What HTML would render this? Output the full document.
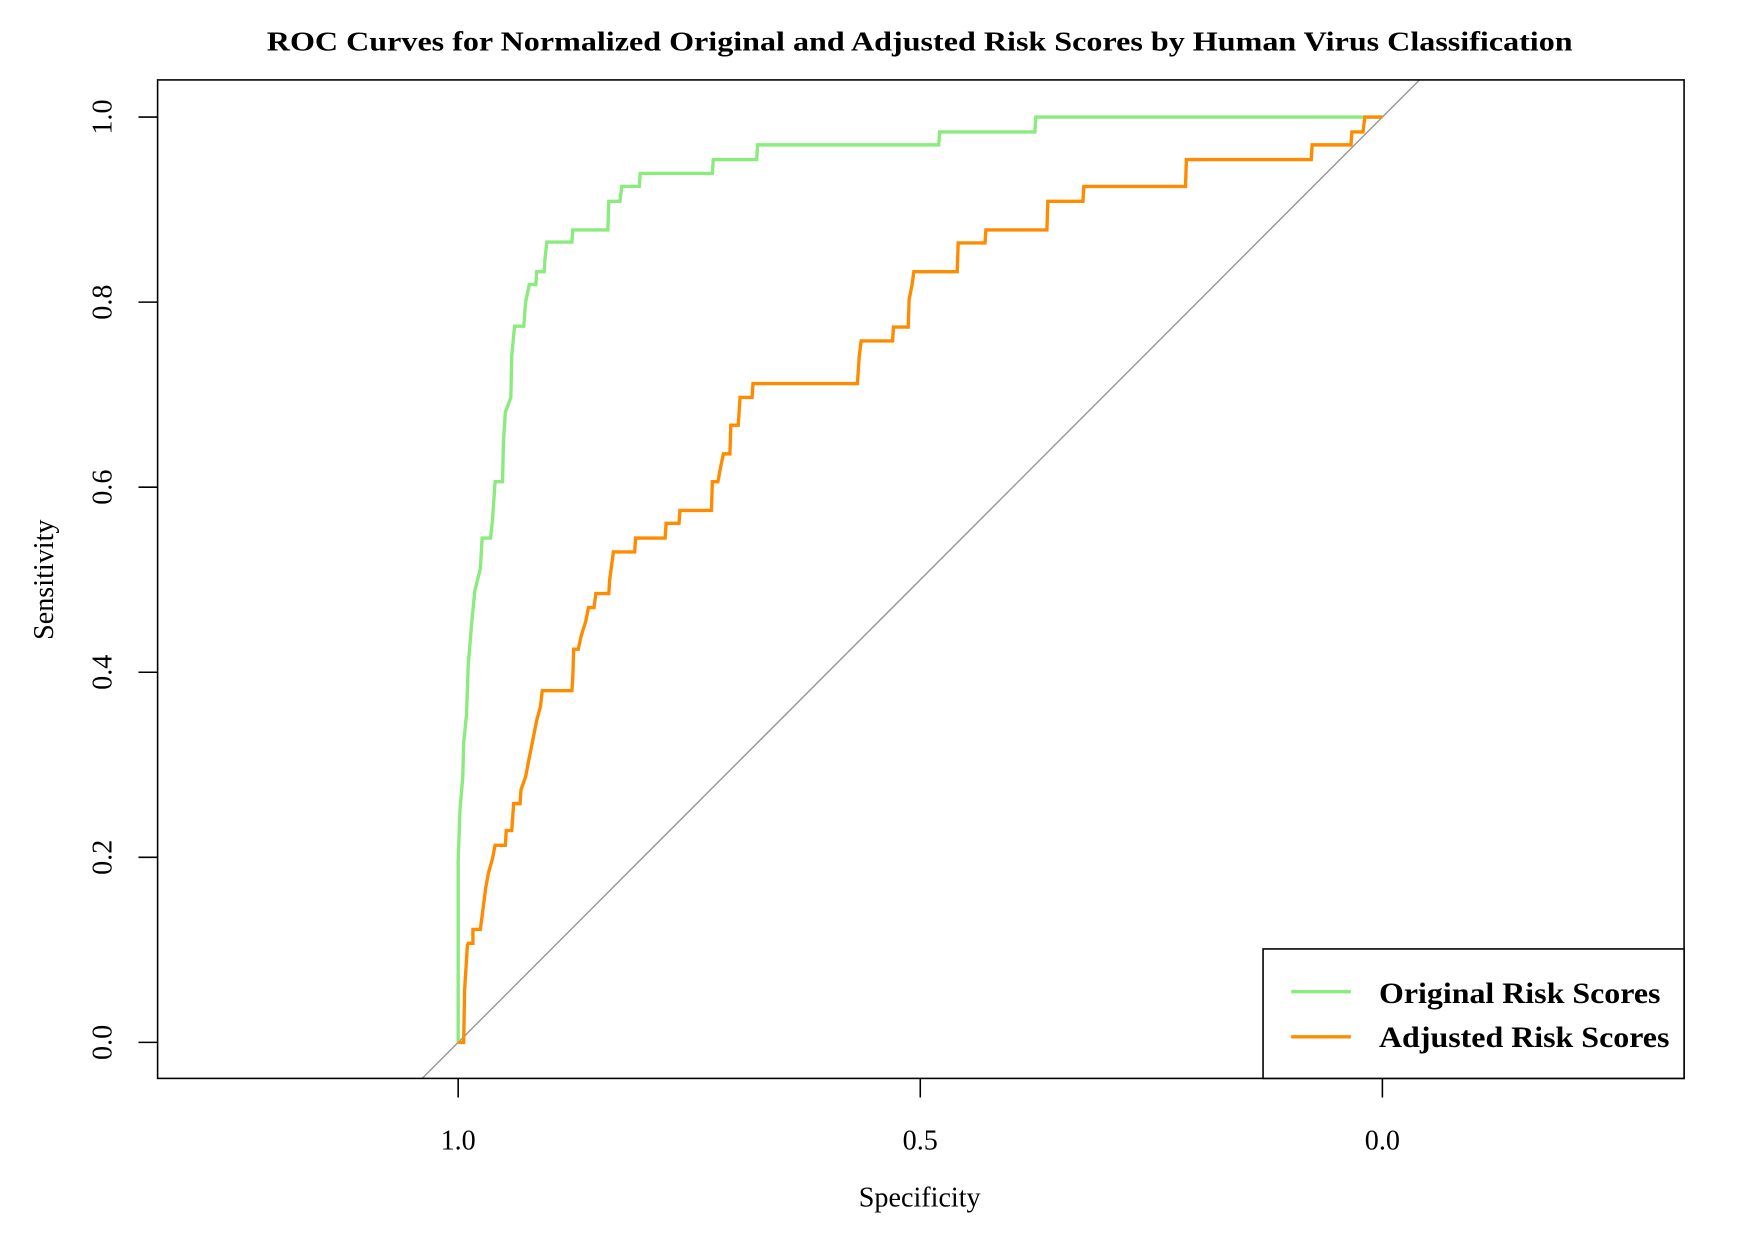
<!DOCTYPE html>
<html><head><meta charset="utf-8"><style>
html,body{margin:0;padding:0;background:#fff;}
svg{display:block;font-family:"Liberation Serif",serif;}
</style></head><body>
<svg id="c" width="1764" height="1236" viewBox="0 0 1567 1098" preserveAspectRatio="none" xmlns="http://www.w3.org/2000/svg">
<text x="817" y="45" text-anchor="middle" font-weight="bold" font-size="24" textLength="1160" lengthAdjust="spacingAndGlyphs">ROC Curves for Normalized Original and Adjusted Risk Scores by Human Virus Classification</text>
<defs><clipPath id="pc"><rect x="140" y="71" width="1356" height="887"/></clipPath></defs>
<g id="plot" clip-path="url(#pc)"></g>
<rect x="140" y="71" width="1356" height="887" fill="none" stroke="#000" stroke-width="1.4"/>
<g id="axes"></g>
<text x="817" y="1072" text-anchor="middle" font-size="25">Specificity</text>
<text transform="translate(47,515) rotate(-90)" text-anchor="middle" font-size="25">Sensitivity</text>
<g>
<rect x="1122" y="843" width="374" height="115" fill="#fff" stroke="#000" stroke-width="1.4"/>
<line x1="1147" y1="881" x2="1200" y2="881" stroke="#8CEB7E" stroke-width="3"/>
<text x="1225" y="891" font-weight="bold" font-size="26" textLength="250" lengthAdjust="spacingAndGlyphs">Original Risk Scores</text>
<line x1="1147" y1="921" x2="1200" y2="921" stroke="#FF8C00" stroke-width="3"/>
<text x="1225" y="930" font-weight="bold" font-size="26" textLength="258" lengthAdjust="spacingAndGlyphs">Adjusted Risk Scores</text>
</g>
</svg>
<script>
const xTicks = [1.0, 0.5, 0.0];
const xTickLabels = ["1.0", "0.5", "0.0"];
const yTicks = [0, 0.2, 0.4, 0.6, 0.8, 1.0];
const yTickLabels = ["0.0", "0.2", "0.4", "0.6", "0.8", "1.0"];
const origSpec = [1,1,0.998,0.995,0.994,0.991,0.989,0.985,0.982,0.976,0.974,0.965,0.963,0.96,0.952,0.951,0.949,0.943,0.942,0.939,0.929,0.927,0.923,0.916,0.915,0.907,0.906,0.904,0.877,0.876,0.838,0.837,0.825,0.823,0.804,0.803,0.725,0.724,0.677,0.676,0.48,0.479,0.376,0.375,0];
const origSens = [0,0.196,0.251,0.287,0.324,0.354,0.409,0.457,0.488,0.512,0.545,0.545,0.563,0.606,0.606,0.648,0.681,0.697,0.742,0.774,0.774,0.8,0.819,0.819,0.833,0.833,0.848,0.865,0.865,0.878,0.878,0.909,0.909,0.925,0.925,0.939,0.939,0.954,0.954,0.97,0.97,0.984,0.984,1,1];
const adjSpec = [1,0.994,0.993,0.99,0.989,0.984,0.984,0.976,0.974,0.972,0.97,0.967,0.963,0.96,0.949,0.948,0.942,0.94,0.933,0.932,0.927,0.924,0.921,0.918,0.915,0.911,0.909,0.877,0.876,0.875,0.87,0.867,0.862,0.859,0.853,0.851,0.837,0.836,0.832,0.809,0.808,0.776,0.775,0.761,0.76,0.726,0.725,0.719,0.716,0.713,0.706,0.705,0.697,0.695,0.682,0.681,0.568,0.566,0.564,0.53,0.529,0.513,0.512,0.509,0.507,0.46,0.459,0.43,0.429,0.363,0.362,0.324,0.323,0.213,0.212,0.077,0.076,0.034,0.033,0.021,0.019,0];
const adjSens = [0,0,0.056,0.105,0.107,0.107,0.122,0.122,0.137,0.153,0.168,0.184,0.198,0.213,0.213,0.229,0.229,0.258,0.258,0.273,0.287,0.303,0.318,0.333,0.348,0.363,0.38,0.38,0.394,0.425,0.425,0.439,0.455,0.47,0.47,0.485,0.485,0.5,0.53,0.53,0.545,0.545,0.561,0.561,0.575,0.575,0.606,0.606,0.622,0.636,0.636,0.667,0.667,0.697,0.697,0.712,0.712,0.742,0.758,0.758,0.773,0.773,0.803,0.818,0.833,0.833,0.864,0.864,0.878,0.878,0.909,0.909,0.925,0.925,0.954,0.954,0.97,0.97,0.984,0.984,1,1];

const NS = "http://www.w3.org/2000/svg";
const sx = v => 1228 - v * 821;
const sy = v => 926 - v * 822;
const plot = document.getElementById('plot');
const axes = document.getElementById('axes');
function mk(tag, attrs, parent){ const e=document.createElementNS(NS,tag); for(const k in attrs) e.setAttribute(k,attrs[k]); parent.appendChild(e); return e; }

const diag = mk('line',{x1:sx(1.2),y1:sy(-0.2),x2:sx(-0.2),y2:sy(1.2),stroke:'#999',"stroke-width":1.3},plot);



function curve(spec, sens, color, name){
  let d = '';
  for(let i=0;i<spec.length;i++) d += (i?'L':'M') + sx(spec[i]).toFixed(1) + ',' + sy(sens[i]).toFixed(1);
  const p = mk('path',{d:d,fill:'none',stroke:color,"stroke-width":3,"stroke-linejoin":'miter'},plot);
  
  
}
curve(origSpec, origSens, '#8CEB7E', 'original-risk-curve');
curve(adjSpec, adjSens, '#FF8C00', 'adjusted-risk-curve');

xTicks.forEach((t,i)=>{
  const l = mk('line',{x1:sx(t),y1:958,x2:sx(t),y2:975,stroke:'#000',"stroke-width":1.4},axes);
  
  
  const tx = mk('text',{x:sx(t),y:1021,"text-anchor":'middle',"font-size":25},axes);
  tx.textContent = xTickLabels[i];
  
  
});
yTicks.forEach((t,i)=>{
  const l = mk('line',{x1:123,y1:sy(t),x2:140,y2:sy(t),stroke:'#000',"stroke-width":1.4},axes);
  
  
  const tx = mk('text',{transform:`translate(99,${sy(t)}) rotate(-90)`,"text-anchor":'middle',"font-size":25},axes);
  tx.textContent = yTickLabels[i];
  
  
});
</script>
</body></html>
